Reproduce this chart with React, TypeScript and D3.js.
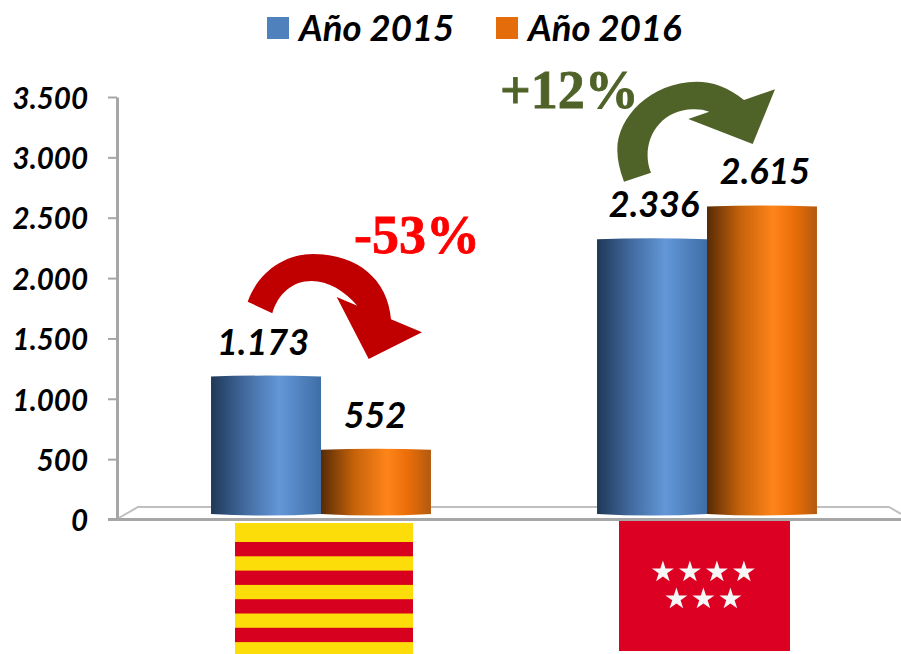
import React, { useEffect, useRef } from "react";
import * as d3 from "d3";

const regions = ["Cataluña", "Madrid"];
const years = ["Año 2015", "Año 2016"];
const values2015 = [1173, 2336];
const values2016 = [552, 2615];
const yTicks = [0, 500, 1000, 1500, 2000, 2500, 3000, 3500];
const legendColors = ["#4f81bd", "#e46c0a"];
const starRows = [4, 3];
const catalanRedStripes = [0, 1, 2, 3];

const width = 901;
const height = 654;

const locale = d3.formatLocale({
  decimal: ",",
  thousands: ".",
  grouping: [3],
  currency: ["", ""],
});
const fmt = locale.format(",d");

const labelFont = "Lato, 'Open Sans', sans-serif";
const pctFont = "'Liberation Serif', serif";

// y for the axis, yBar for the bars (they stand further back on the 3d floor)
const y = d3.scaleLinear().domain([0, 3500]).range([519.5, 97]);
const yBar = d3.scaleLinear().domain([0, 3500]).range([514, 101]);
const x0 = d3.scaleBand().domain(regions).range([128, 900]);
const x1 = d3.scaleBand().domain(years).range([0, x0.bandwidth()]).paddingOuter(0.755).paddingInner(0);

// labels are not quite centred over the bars in the original
const labelNudge = [
  [-3, -1],
  [2, 3],
];

const barPath = (v: number, left: number, w: number) => {
  const p = d3.path();
  const top = yBar(v);
  const base = yBar(0);
  p.moveTo(left, top + 1);
  p.quadraticCurveTo(left + w / 2, top - 1, left + w, top + 1);
  p.lineTo(left + w, base);
  p.quadraticCurveTo(left + w / 2, base + 3, left, base);
  p.closePath();
  return p.toString();
};

const redArrow = () => {
  const p = d3.path();
  p.moveTo(247.7, 301.7);
  p.bezierCurveTo(258, 272, 285, 254, 313, 254);
  p.bezierCurveTo(358, 254, 388, 280, 391, 319.3);
  p.lineTo(422, 332.3);
  p.lineTo(368.7, 359);
  p.lineTo(336.7, 297);
  p.lineTo(357.3, 305.7);
  p.bezierCurveTo(345, 291, 328, 281, 311.7, 281);
  p.bezierCurveTo(292, 281, 278, 294, 272.3, 313.3);
  p.closePath();
  return p.toString();
};

const greenArrow = () => {
  const p = d3.path();
  p.moveTo(624, 181.7);
  p.lineTo(651, 172.7);
  p.bezierCurveTo(640, 146, 656, 110, 693, 109.3);
  p.quadraticCurveTo(702, 109, 709.3, 111.7);
  p.lineTo(688.3, 119);
  p.lineTo(752.7, 144);
  p.lineTo(775, 89.3);
  p.lineTo(744, 100);
  p.bezierCurveTo(728, 87, 712, 81.7, 696.7, 81.7);
  p.bezierCurveTo(650, 82, 617, 118, 617.3, 150);
  p.quadraticCurveTo(617.5, 165, 624, 181.7);
  p.closePath();
  return p.toString();
};

const star = d3.symbol().type(d3.symbolStar).size(150)();

export default function App() {
  const axisRef = useRef<SVGGElement>(null);

  useEffect(() => {
    document.body.style.margin = "0";
    const g = d3.select(axisRef.current);
    g.call(d3.axisLeft(y).tickValues(yTicks).tickFormat((d) => fmt(d as number)).tickSize(9).tickSizeOuter(0).tickPadding(20));
    g.select(".domain").attr("stroke", "#a6a6a6").attr("stroke-width", 3);
    g.selectAll(".tick line").attr("stroke", "#a6a6a6").attr("stroke-width", 2);
    g.selectAll(".tick text")
      .attr("fill", "#000")
      .attr("font-family", labelFont)
      .attr("font-size", 29.5)
      .attr("font-weight", 700)
      .attr("font-style", "italic")
      .attr("dy", "0.38em");
  }, []);

  const bw = x1.bandwidth();

  return (
    <svg width={width} height={height} style={{ display: "block" }}>
      <defs>
        <linearGradient id="blueBar">
          <stop offset="0" stopColor="#1f3857" />
          <stop offset="0.3" stopColor="#41699d" />
          <stop offset="0.62" stopColor="#6397d8" />
          <stop offset="1" stopColor="#3f6ea6" />
        </linearGradient>
        <linearGradient id="orangeBar">
          <stop offset="0" stopColor="#572b05" />
          <stop offset="0.3" stopColor="#c5620b" />
          <stop offset="0.6" stopColor="#ff8419" />
          <stop offset="0.8" stopColor="#e86d08" />
          <stop offset="1" stopColor="#b25a10" />
        </linearGradient>
      </defs>

      {/* legend */}
      {years.map((yr, i) => (
        <g key={yr} transform={`translate(${267 + i * 229},17)`}>
          <rect width={22} height={22} fill={legendColors[i]} />
          <text x={32} y={24} fontFamily={labelFont} fontSize={36.5} fontWeight={700} fontStyle="italic" fill="#000">
            {yr}
          </text>
        </g>
      ))}

      {/* 3d floor */}
      <path d="M117,519 L138,507 H889 L901,514" fill="none" stroke="#bfbfbf" strokeWidth={2} />
      <line x1={108} x2={901} y1={519.5} y2={519.5} stroke="#a6a6a6" strokeWidth={3} />
      <g ref={axisRef} transform="translate(117,0)" />

      {/* bars */}
      {regions.map((r, i) => (
        <g key={r} transform={`translate(${x0(r)},0)`}>
          {[values2015[i], values2016[i]].map((v, j) => (
            <g key={years[j]}>
              <path d={barPath(v, x1(years[j])!, bw)} fill={j === 0 ? "url(#blueBar)" : "url(#orangeBar)"} />
              <text
                x={x1(years[j])! + bw / 2 + labelNudge[i][j]}
                y={yBar(v) - 21}
                textAnchor="middle"
                fontFamily={labelFont}
                fontSize={36}
                fontWeight={700}
                fontStyle="italic"
                fill="#000"
              >
                {fmt(v)}
              </text>
            </g>
          ))}
        </g>
      ))}

      {/* change arrows */}
      <path d={redArrow()} fill="#c00000" />
      <text x={354} y={253} fontFamily={pctFont} fontSize={54} fontWeight={700} fill="#ff0000" stroke="#ff0000" strokeWidth={0.8}>
        -53%
      </text>
      <path d={greenArrow()} fill="#4f6228" />
      <text x={500} y={108} fontFamily={pctFont} fontSize={54} fontWeight={700} fill="#4f6228" stroke="#4f6228" strokeWidth={0.8}>
        +12%
      </text>

      {/* flags */}
      <rect x={235} y={523} width={178} height={131} fill="#fcdd09" />
      {catalanRedStripes.map((s) => (
        <rect key={s} x={235} y={542 + s * 28.6} width={178} height={14.3} fill="#d8001f" />
      ))}
      <rect x={619} y={521} width={171} height={130} fill="#dc0022" />
      {starRows.map((n, row) =>
        d3.range(n).map((k) => (
          <path
            key={`${row}-${k}`}
            d={star!}
            fill="#f7f7f7"
            transform={`translate(${703.4 + (k - (n - 1) / 2) * 27},${572 + row * 27})`}
          />
        ))
      )}
    </svg>
  );
}
